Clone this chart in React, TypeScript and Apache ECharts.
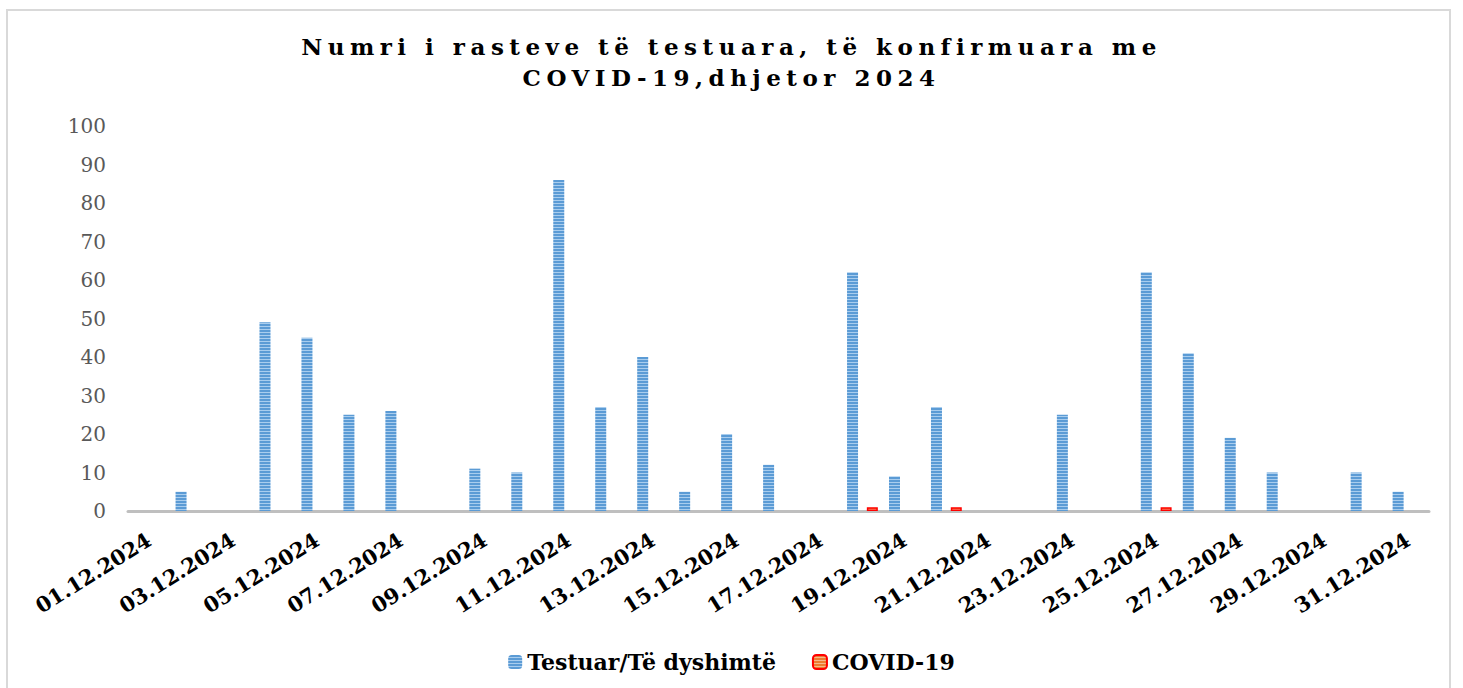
import React, { useEffect, useRef } from "react";
import * as echarts from "echarts";

const categories = [
  "01.12.2024", "02.12.2024", "03.12.2024", "04.12.2024", "05.12.2024", "06.12.2024",
  "07.12.2024", "08.12.2024", "09.12.2024", "10.12.2024", "11.12.2024", "12.12.2024",
  "13.12.2024", "14.12.2024", "15.12.2024", "16.12.2024", "17.12.2024", "18.12.2024",
  "19.12.2024", "20.12.2024", "21.12.2024", "22.12.2024", "23.12.2024", "24.12.2024",
  "25.12.2024", "26.12.2024", "27.12.2024", "28.12.2024", "29.12.2024", "30.12.2024",
  "31.12.2024",
];

const testedValues = [
  0, 5, 0, 49, 45, 25, 26, 0, 11, 10, 86, 27, 40, 5, 20, 12, 0, 62, 9, 27, 0, 0, 25, 0, 62, 41, 19, 10, 0, 10, 5,
];

const covidValues = [
  0, 0, 0, 0, 0, 0, 0, 0, 0, 0, 0, 0, 0, 0, 0, 0, 0, 1, 0, 1, 0, 0, 0, 0, 1, 0, 0, 0, 0, 0, 0,
];

const seriesNames = ["Testuar/Të dyshimtë", "COVID-19"];
const titleText = "Numri i rasteve të testuara, të konfirmuara me\nCOVID-19,dhjetor 2024";

function stripePattern(dark: string, light: string) {
  const cv = document.createElement("canvas");
  cv.width = 4;
  cv.height = 3;
  const ctx = cv.getContext("2d")!;
  ctx.fillStyle = dark;
  ctx.fillRect(0, 0, 4, 2);
  ctx.fillStyle = light;
  ctx.fillRect(0, 2, 4, 1);
  return {
    image: cv.toDataURL(),
    imageWidth: 4,
    imageHeight: 3,
    repeat: "repeat",
  } as any;
}

export default function App() {
  const ref = useRef<HTMLDivElement>(null);

  useEffect(() => {
    if (!ref.current) return;
    const chart = echarts.init(ref.current, undefined, { renderer: "svg" });
    const blue = stripePattern("#5B9BD5", "#A9CDEE");
    const orange = stripePattern("#ED7D31", "#F6B88C");

    chart.setOption({
      animation: false,
      backgroundColor: "#ffffff",
      title: {
        text: titleText,
        left: "center",
        top: 26,
        textStyle: {
          fontFamily: "DejaVu Serif",
          fontWeight: "bold",
          fontSize: 23,
          lineHeight: 31,
          color: "#000000",
        },
      },
      legend: {
        top: 646,
        left: "center",
        itemWidth: 14,
        itemHeight: 14,
        itemGap: 36,
        textStyle: {
          fontFamily: "DejaVu Serif",
          fontWeight: "bold",
          fontSize: 22,
          color: "#000000",
        },
        data: seriesNames,
      },
      graphic: [
        {
          type: "rect",
          shape: { x: 7, y: 10, width: 1443, height: 700 },
          style: { fill: "none", stroke: "#D9D9D9", lineWidth: 2 },
          silent: true,
        },
      ],
      grid: { left: 128, right: 34, top: 126, bottom: 177, containLabel: false },
      xAxis: {
        type: "category",
        data: categories,
        axisLine: { show: true, lineStyle: { color: "#BFBFBF", width: 3 } },
        axisTick: { show: false },
        axisLabel: {
          interval: 1,
          rotate: 32,
          margin: 27,
          fontFamily: "DejaVu Serif",
          fontWeight: "bold",
          fontSize: 21,
          color: "#000000",
        },
      },
      yAxis: {
        type: "value",
        min: 0,
        max: 100,
        interval: 10,
        axisLine: { show: false },
        axisTick: { show: false },
        splitLine: { show: false },
        axisLabel: {
          margin: 22,
          fontFamily: "DejaVu Serif",
          fontSize: 20,
          color: "#595959",
        },
      },
      series: [
        {
          name: seriesNames[0],
          type: "bar",
          barWidth: 11,
          barGap: "80%",
          data: testedValues,
          itemStyle: { color: blue },
        },
        {
          name: seriesNames[1],
          type: "bar",
          barWidth: 11,
          data: covidValues.map((v) => (v === 0 ? null : v)),
          itemStyle: { color: orange, borderColor: "#FF0000", borderWidth: 1.5 },
        },
      ],
    });

    const texts = ref.current.querySelectorAll("text");
    texts.forEach((t) => {
      const s = t.textContent || "";
      if (s.startsWith("Numri") || s.startsWith("COVID-19,")) {
        (t as SVGTextElement).style.letterSpacing = "5.5px";
      }
    });

    return () => chart.dispose();
  }, []);

  return (
    <div
      ref={ref}
      style={{ position: "fixed", left: 0, top: 0, width: 1463, height: 688 }}
    />
  );
}
